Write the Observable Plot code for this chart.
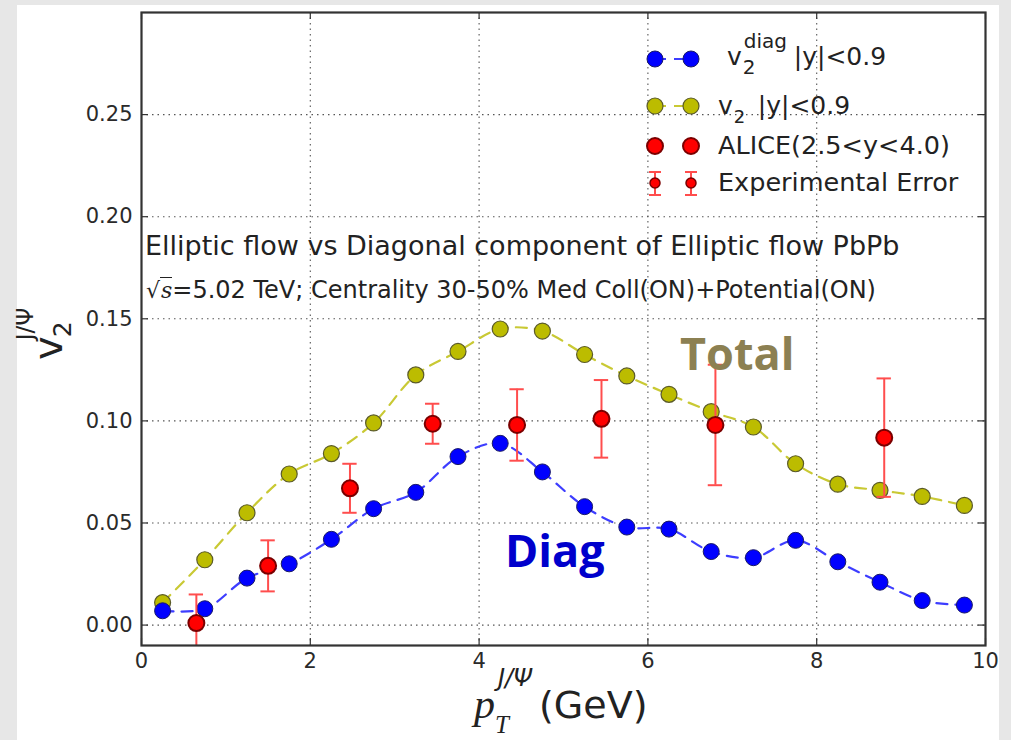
<!DOCTYPE html>
<html>
<head>
<meta charset="utf-8">
<script src="https://cdn.jsdelivr.net/npm/d3@7"></script>
<script src="https://cdn.jsdelivr.net/npm/@observablehq/plot@0.6"></script>
<style>
  html, body { margin: 0; padding: 0; background: #e7e7e7; }
  #wrap { position: relative; width: 1011px; height: 740px; overflow: hidden; font-family: "DejaVu Sans", sans-serif; }
  #panel { position: absolute; left: 17px; top: 5px; width: 982px; height: 735px; background: #fff; }
  #chart { position: absolute; left: 0; top: 0; }
  .ov { position: absolute; white-space: nowrap; color: #222; line-height: 1; }
  .leg { position: absolute; left: 640px; top: 30px; width: 360px; height: 170px; }
</style>
</head>
<body>
<div id="wrap">
  <div id="panel"></div>
  <div id="chart"></div>
</div>
<script>
// ---- data ----
const pt = [0.25, 0.75, 1.25, 1.75, 2.25, 2.75, 3.25, 3.75, 4.25, 4.75, 5.25, 5.75, 6.25, 6.75, 7.25, 7.75, 8.25, 8.75, 9.25, 9.75];
const v2diag = [0.007, 0.008, 0.023, 0.030, 0.042, 0.057, 0.065, 0.0825, 0.089, 0.075, 0.058, 0.048, 0.047, 0.036, 0.033, 0.0415, 0.031, 0.021, 0.012, 0.0098];
const v2total = [0.011, 0.032, 0.055, 0.074, 0.084, 0.099, 0.1225, 0.134, 0.145, 0.144, 0.1325, 0.122, 0.113, 0.1045, 0.097, 0.079, 0.069, 0.066, 0.063, 0.0586];
const aliceX = [0.65, 1.5, 2.47, 3.45, 4.45, 5.45, 6.8, 8.8];
const aliceY = [0.001, 0.029, 0.067, 0.0986, 0.098, 0.101, 0.098, 0.0918];
const aliceErr = [0.014, 0.0125, 0.012, 0.0098, 0.0175, 0.019, 0.0295, 0.029];
const xTicks = [0, 2, 4, 6, 8, 10];
const yTicks = [0, 0.05, 0.10, 0.15, 0.20, 0.25];

const diag = pt.map((x, i) => ({x, y: v2diag[i]}));
const total = pt.map((x, i) => ({x, y: v2total[i]}));
const alice = aliceX.map((x, i) => ({x, y: aliceY[i], e: aliceErr[i]}));

const W = 1011, H = 740, mL = 141, mR = 26, mT = 12, mB = 95;
const fw = W - mL - mR, fh = H - mT - mB;
const capHalf = 0.085;

const chart = Plot.plot({
  width: W, height: H,
  marginLeft: mL, marginRight: mR, marginTop: mT, marginBottom: mB,
  style: {background: "transparent", fontFamily: "DejaVu Sans, sans-serif", color: "#222"},
  x: {domain: [0, 10]},
  y: {domain: [-0.01, 0.30]},
  marks: [
    Plot.gridX([2, 4, 6, 8], {stroke: "#444", strokeOpacity: 0.9, strokeDasharray: "1.5,4", strokeWidth: 1.1}),
    Plot.gridY(yTicks, {stroke: "#444", strokeOpacity: 0.9, strokeDasharray: "1.5,4", strokeWidth: 1.1}),
    Plot.axisY(yTicks, {tickSize: 0, tickPadding: 9, tickFormat: d => d.toFixed(2), fontSize: 21, fill: "#2a2a2a", label: null}),
    Plot.axisX(xTicks, {tickSize: 0, tickPadding: 8, fontSize: 21, fill: "#2a2a2a", label: null}),
    // inward tick marks on all four sides
    Plot.ruleX(xTicks, {x: d => d, insetTop: fh - 7, stroke: "#333", strokeWidth: 1.2}),
    Plot.ruleX(xTicks, {x: d => d, insetBottom: fh - 7, stroke: "#333", strokeWidth: 1.2}),
    Plot.ruleY(yTicks, {y: d => d, insetRight: fw - 7, stroke: "#333", strokeWidth: 1.2}),
    Plot.ruleY(yTicks, {y: d => d, insetLeft: fw - 7, stroke: "#333", strokeWidth: 1.2}),
    // model curves
    Plot.line(total, {x: "x", y: "y", stroke: "#c9c934", strokeWidth: 2.2, strokeDasharray: "11,8", curve: "catmull-rom"}),
    Plot.line(diag, {x: "x", y: "y", stroke: "#3d3dff", strokeWidth: 2.2, strokeDasharray: "11,8", curve: "catmull-rom"}),
    Plot.dot(total, {x: "x", y: "y", r: 8, fill: "#bcbc00", stroke: "#5a5a2a", strokeWidth: 1.2}),
    Plot.dot(diag, {x: "x", y: "y", r: 8, fill: "#0000ff", stroke: "#1a1a66", strokeWidth: 1}),
    // ALICE data with error bars
    Plot.ruleX(alice, {x: "x", y1: d => d.y - d.e, y2: d => d.y + d.e, stroke: "#ff4d4d", strokeWidth: 2, clip: true}),
    Plot.ruleY(alice, {y: d => d.y + d.e, x1: d => d.x - capHalf, x2: d => d.x + capHalf, stroke: "#ff4d4d", strokeWidth: 2, clip: true}),
    Plot.ruleY(alice, {y: d => d.y - d.e, x1: d => d.x - capHalf, x2: d => d.x + capHalf, stroke: "#ff4d4d", strokeWidth: 2, clip: true}),
    Plot.dot(alice, {x: "x", y: "y", r: 8, fill: "#ff0000", stroke: "#7a0000", strokeWidth: 2}),
    Plot.frame({stroke: "#333", strokeWidth: 2.2})
  ]
});
document.getElementById("chart").appendChild(chart);

// ---- overlays: annotations, axis labels, legend ----
const wrap = document.getElementById("wrap");
function add(html, style) {
  const d = document.createElement("div");
  d.className = "ov";
  d.innerHTML = html;
  Object.assign(d.style, style);
  wrap.appendChild(d);
  return d;
}
add("Elliptic flow vs Diagonal component of Elliptic flow PbPb", {left: "145px", top: "232px", fontSize: "27px"});
add('<span style="font-family:\'DejaVu Serif\',serif;font-size:22px">√<span style="border-top:1.5px solid #222;font-style:italic;padding-left:1px">s</span></span>=5.02 TeV; Centrality 30-50% Med Coll(ON)+Potential(ON)',
    {left: "146px", top: "278px", fontSize: "24px"});
add("Total", {left: "680px", top: "330px", fontSize: "45px", fontWeight: "bold", fontFamily: "'Open Sans', sans-serif", color: "#8c8052"});
add("Diag", {left: "505px", top: "527px", fontSize: "45px", fontWeight: "bold", fontFamily: "'Open Sans', sans-serif", color: "#0000cc"});

// x-axis label
add('<span style="font-family:\'Liberation Serif\',serif;font-style:italic;font-size:42px">p</span>' +
    '<span style="display:inline-block;position:relative;width:44px;height:10px">' +
      '<span style="position:absolute;left:3px;top:-42px;font-size:24px;font-style:italic;font-family:\'DejaVu Sans\'">J/Ψ</span>' +
      '<span style="position:absolute;left:0px;top:4px;font-size:25px;font-style:italic;font-family:\'Liberation Serif\',serif">T</span>' +
    '</span>(GeV)',
    {left: "474px", top: "683px", fontSize: "38px"});

// y-axis label (rotated)
const yl = add('v<span style="font-size:25px;display:inline-block;position:relative;width:18px;height:10px">' +
    '<span style="position:absolute;left:-1px;top:-2px">2</span>' +
    '<span style="position:absolute;left:-4px;top:-38px;font-size:23px">J/Ψ</span></span>',
    {left: "0px", top: "0px", fontSize: "40px"});
yl.style.transformOrigin = "0 0";
yl.style.transform = "translate(28px, 360px) rotate(-90deg)";

// legend
const leg = document.createElement("div");
leg.className = "leg";
leg.innerHTML = `
<svg width="360" height="170" style="position:absolute;left:0;top:0;overflow:visible">
  <line x1="15" y1="29" x2="50" y2="29" stroke="#3d3dff" stroke-width="2.2" stroke-dasharray="11,8"/>
  <circle cx="15" cy="29" r="8" fill="#0000ff" stroke="#1a1a66"/>
  <circle cx="51" cy="29" r="8" fill="#0000ff" stroke="#1a1a66"/>
  <line x1="15" y1="76" x2="50" y2="76" stroke="#c9c934" stroke-width="2.2" stroke-dasharray="11,8"/>
  <circle cx="15" cy="76" r="8" fill="#bcbc00" stroke="#5a5a2a" stroke-width="1.2"/>
  <circle cx="51" cy="76" r="8" fill="#bcbc00" stroke="#5a5a2a" stroke-width="1.2"/>
  <circle cx="15" cy="116" r="8" fill="#ff0000" stroke="#7a0000" stroke-width="2"/>
  <circle cx="51" cy="116" r="8" fill="#ff0000" stroke="#7a0000" stroke-width="2"/>
  <g stroke="#ff4d4d" stroke-width="2">
    <line x1="15" y1="142" x2="15" y2="165"/><line x1="9" y1="142" x2="21" y2="142"/><line x1="9" y1="165" x2="21" y2="165"/>
    <line x1="51" y1="142" x2="51" y2="165"/><line x1="45" y1="142" x2="57" y2="142"/><line x1="45" y1="165" x2="57" y2="165"/>
  </g>
  <circle cx="15" cy="153" r="5" fill="#ff0000" stroke="#7a0000" stroke-width="1.5"/>
  <circle cx="51" cy="153" r="5" fill="#ff0000" stroke="#7a0000" stroke-width="1.5"/>
</svg>`;
wrap.appendChild(leg);
add('v<span style="display:inline-block;position:relative;width:44px;height:10px;font-size:20px">' +
    '<span style="position:absolute;left:1px;top:2px">2</span>' +
    '<span style="position:absolute;left:2px;top:-24px">diag</span></span> |y|<0.9',
    {left: "727px", top: "44px", fontSize: "25px"});
add('v<span style="display:inline-block;position:relative;width:17px;height:10px;font-size:18px">' +
    '<span style="position:absolute;left:1px;top:4px">2</span></span> |y|<0.9',
    {left: "718px", top: "93px", fontSize: "25px"});
add("ALICE(2.5&lt;y&lt;4.0)", {left: "718px", top: "133px", fontSize: "25.5px"});
add("Experimental Error", {left: "718px", top: "170px", fontSize: "25.5px"});
</script>
</body>
</html>
